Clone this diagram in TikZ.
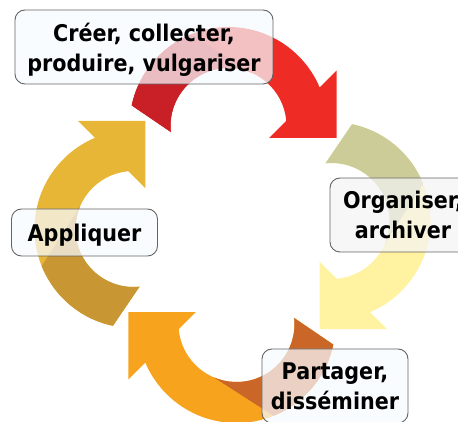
\documentclass[tikz,border=0pt]{standalone}
\usepackage{fontspec}
\setmainfont{DejaVu Sans}[FakeStretch=0.9]
\usetikzlibrary{calc}

\definecolor{redhead}{RGB}{238,43,36}
\definecolor{redtail}{RGB}{201,31,39}
\definecolor{yellowhead}{RGB}{255,242,160}
\definecolor{yellowtail}{RGB}{204,204,153}
\definecolor{orangehead}{RGB}{248,163,30}
\definecolor{orangetail}{RGB}{202,102,40}
\definecolor{goldhead}{RGB}{231,182,55}
\definecolor{goldtail}{RGB}{200,150,50}
\definecolor{boxline}{RGB}{100,100,100}
\definecolor{boxfill}{RGB}{247,251,255}
\definecolor{boxgray}{RGB}{244,244,244}

\tikzset{
  stagebox/.style={draw=boxline, line width=0.9pt, rounded corners=10pt,
    fill=boxfill, fill opacity=0.72, text opacity=1, align=center,
    font=\fontsize{23}{30}\selectfont\bfseries, inner sep=0pt, text depth=0pt,
    minimum width=146pt, minimum height=74pt}
}

% one curved arrow, drawn at the top and turned round the centre
\newcommand{\arrowoutline}{($(C)+(168:99)$) arc[start angle=168, end angle=22.87, radius=99]
  -- (104.21,154.48) -- (104.21,87.05) -- (36.78,87.05) -- ($(C)+(5:58)$)
  arc[start angle=5, end angle=186, radius=58] -- cycle}
\newcommand{\cycarrow}[3]{% turn, head colour, tail colour
  \begin{scope}[rotate=#1]
    \coordinate (C) at (-4,99);
    \fill[#2] \arrowoutline;
    \begin{scope}
      \clip \arrowoutline;
      \fill[#3] ($(C)+(67:58)$) -- ($(C)+(112:99)$) -- ($(C)+(112:140)$)
        -- ($(C)+(156:150)$) -- ($(C)+(200:140)$) -- (C) -- cycle;
    \end{scope}
  \end{scope}}

\begin{document}
\begin{tikzpicture}[x=1pt,y=1pt]
\useasboundingbox (-232.5,-197) rectangle (225.5,225);
\clip (-232.5,-197) rectangle (225.5,225);

% arrows
\cycarrow{0}{redhead}{redtail}
\cycarrow{-90}{yellowhead}{yellowtail}
\cycarrow{180}{orangehead}{orangetail}
\cycarrow{90}{goldhead}{goldtail}

% stages
\node[stagebox, minimum width=258pt] (create) at (-88.5,178) {Créer, collecter,\\produire, vulgariser};
\node[stagebox, fill=boxgray] (organise) at (170.5,10) {Organiser,\\archiver};
\node[stagebox] (share) at (102.5,-161) {Partager,\\disséminer};
\node[stagebox, minimum height=47pt] (apply) at (-148,-7.5) {Appliquer};
\end{tikzpicture}
\end{document}
